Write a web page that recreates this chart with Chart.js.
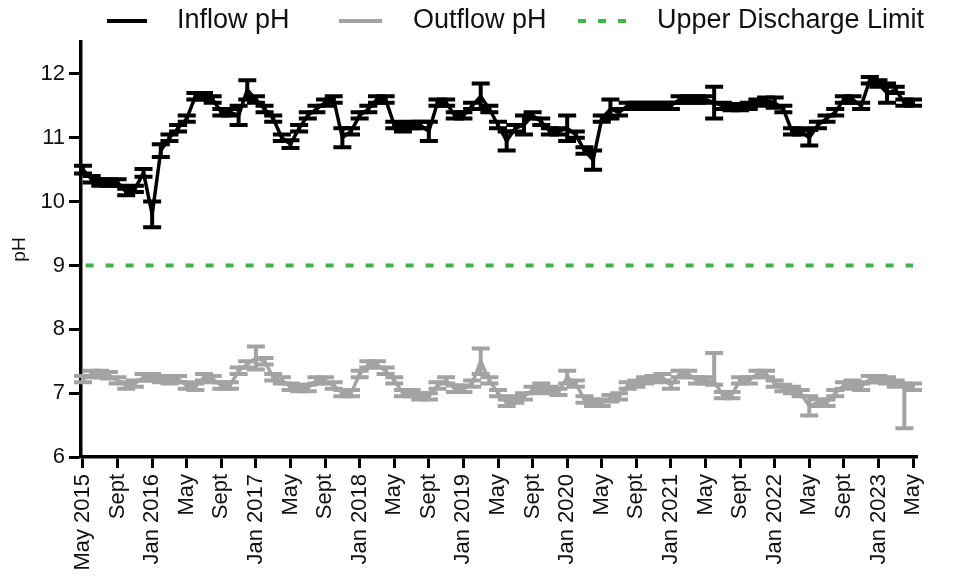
<!DOCTYPE html>
<html>
<head>
<meta charset="utf-8">
<script src="https://cdn.jsdelivr.net/npm/chart.js@4.4.1/dist/chart.umd.min.js"></script>
<style>
  html, body { margin: 0; padding: 0; background: #fff; }
  #wrap { width: 954px; height: 581px; }
</style>
</head>
<body>
<div id="wrap"><canvas id="c" width="954" height="581"></canvas></div>
<script>
// ---- data (monthly, May 2015 .. May 2023) ----
const tickLabels = ["May 2015","Sept","Jan 2016","May","Sept","Jan 2017","May","Sept","Jan 2018","May","Sept","Jan 2019","May","Sept","Jan 2020","May","Sept","Jan 2021","May","Sept","Jan 2022","May","Sept","Jan 2023","May"];

const inflowMean = [
  10.5, 10.35, 10.3, 10.3, 10.3, 10.15, 10.2, 10.45, 9.8, 10.8,
  11.0, 11.15, 11.3, 11.65, 11.65, 11.6, 11.4, 11.4, 11.35, 11.75,
  11.6, 11.45, 11.3, 11.0, 10.9, 11.15, 11.35, 11.45, 11.55, 11.6,
  11.0, 11.1, 11.35, 11.45, 11.6, 11.6, 11.2, 11.15, 11.2, 11.2,
  11.1, 11.55, 11.55, 11.35, 11.35, 11.5, 11.65, 11.45, 11.2, 10.95,
  11.15, 11.2, 11.35, 11.25, 11.1, 11.1, 11.15, 11.05, 10.8, 10.65,
  11.3, 11.45, 11.4, 11.5, 11.5, 11.5, 11.5, 11.5, 11.5, 11.6,
  11.6, 11.6, 11.6, 11.55, 11.5, 11.48, 11.48, 11.5, 11.55, 11.58,
  11.55, 11.45, 11.1, 11.1, 11.0, 11.2, 11.3, 11.4, 11.6, 11.6,
  11.5, 11.9, 11.85, 11.7, 11.75, 11.55, 11.55
];
const inflowErr = [
  0.06, 0.05, 0.05, 0.05, 0.05, 0.05, 0.05, 0.06, 0.2, 0.1,
  0.05, 0.05, 0.05, 0.05, 0.05, 0.05, 0.05, 0.05, 0.15, 0.15,
  0.05, 0.05, 0.05, 0.05, 0.06, 0.05, 0.05, 0.05, 0.05, 0.05,
  0.15, 0.05, 0.05, 0.05, 0.05, 0.05, 0.05, 0.05, 0.05, 0.05,
  0.15, 0.05, 0.05, 0.05, 0.05, 0.05, 0.2, 0.05, 0.05, 0.15,
  0.05, 0.15, 0.05, 0.05, 0.05, 0.05, 0.2, 0.05, 0.05, 0.15,
  0.05, 0.15, 0.05, 0.05, 0.05, 0.05, 0.05, 0.05, 0.05, 0.05,
  0.05, 0.05, 0.05, 0.25, 0.05, 0.05, 0.05, 0.05, 0.05, 0.05,
  0.08, 0.05, 0.05, 0.05, 0.12, 0.05, 0.05, 0.05, 0.05, 0.05,
  0.05, 0.05, 0.05, 0.15, 0.05, 0.05, 0.05
];

const outflowMean = [
  7.22, 7.3, 7.3, 7.28, 7.2, 7.12, 7.15, 7.25, 7.25, 7.22,
  7.2, 7.22, 7.12, 7.1, 7.25, 7.22, 7.12, 7.12, 7.35, 7.45,
  7.55, 7.5, 7.25, 7.2, 7.1, 7.08, 7.08, 7.2, 7.2, 7.12,
  7.0, 7.0, 7.3, 7.45, 7.45, 7.35, 7.2, 7.0, 7.0, 6.95,
  6.95, 7.12, 7.2, 7.07, 7.07, 7.15, 7.5, 7.2, 7.0, 6.85,
  6.9, 6.95, 7.05, 7.1, 7.05, 7.02, 7.25, 7.15, 6.9, 6.85,
  6.85, 6.92, 6.95, 7.12, 7.15, 7.2, 7.22, 7.25, 7.12, 7.3,
  7.3, 7.2, 7.2, 7.18, 6.97, 6.97, 7.2, 7.2, 7.3, 7.3,
  7.15, 7.08, 7.05, 7.0, 6.8, 6.85, 6.85, 7.0, 7.12, 7.15,
  7.1, 7.22, 7.22, 7.2, 7.15, 7.1, 7.1
];
const outflowErrUp = [
  0.05, 0.05, 0.05, 0.05, 0.05, 0.05, 0.05, 0.05, 0.05, 0.05,
  0.05, 0.05, 0.05, 0.05, 0.05, 0.05, 0.05, 0.05, 0.05, 0.05,
  0.18, 0.05, 0.05, 0.05, 0.05, 0.05, 0.05, 0.05, 0.05, 0.05,
  0.05, 0.05, 0.05, 0.05, 0.05, 0.05, 0.05, 0.05, 0.05, 0.05,
  0.05, 0.05, 0.05, 0.05, 0.05, 0.05, 0.2, 0.05, 0.05, 0.05,
  0.05, 0.05, 0.05, 0.05, 0.05, 0.05, 0.1, 0.05, 0.05, 0.05,
  0.05, 0.05, 0.05, 0.05, 0.05, 0.05, 0.05, 0.05, 0.05, 0.05,
  0.05, 0.05, 0.05, 0.45, 0.05, 0.05, 0.05, 0.05, 0.05, 0.05,
  0.05, 0.05, 0.05, 0.05, 0.15, 0.05, 0.05, 0.05, 0.05, 0.05,
  0.05, 0.05, 0.05, 0.05, 0.05, 0.05, 0.05
];
const outflowErrDown = [
  0.05, 0.05, 0.05, 0.05, 0.05, 0.05, 0.05, 0.05, 0.05, 0.05,
  0.05, 0.05, 0.05, 0.05, 0.05, 0.05, 0.05, 0.05, 0.05, 0.05,
  0.18, 0.05, 0.05, 0.05, 0.05, 0.05, 0.05, 0.05, 0.05, 0.05,
  0.05, 0.05, 0.05, 0.05, 0.05, 0.05, 0.05, 0.05, 0.05, 0.05,
  0.05, 0.05, 0.05, 0.05, 0.05, 0.05, 0.2, 0.05, 0.05, 0.05,
  0.05, 0.05, 0.05, 0.05, 0.05, 0.05, 0.1, 0.05, 0.05, 0.05,
  0.05, 0.05, 0.05, 0.05, 0.05, 0.05, 0.05, 0.05, 0.05, 0.05,
  0.05, 0.05, 0.05, 0.05, 0.05, 0.05, 0.05, 0.05, 0.05, 0.05,
  0.05, 0.05, 0.05, 0.05, 0.15, 0.05, 0.05, 0.05, 0.05, 0.05,
  0.05, 0.05, 0.05, 0.05, 0.05, 0.65, 0.05
];

const limitValue = 9;
const yTicks = [6, 7, 8, 9, 10, 11, 12];

// ---- styling ----
const FONT = "'Liberation Sans', Arial, Helvetica, sans-serif";
const INK = '#111';
const BLACK = '#000';
const GRAY = '#a3a3a3';
const GREEN = '#3db54a';

Chart.defaults.font.family = FONT;
Chart.defaults.color = INK;

const toXY = arr => arr.map((v, i) => ({ x: i, y: v }));

const errorBars = {
  id: 'errorBars',
  afterDatasetsDraw(chart) {
    const ctx = chart.ctx;
    const ys = chart.scales.y;
    chart.data.datasets.forEach((ds, di) => {
      if (!ds.errUp) return;
      const meta = chart.getDatasetMeta(di);
      ctx.save();
      ctx.strokeStyle = ds.borderColor;
      ctx.lineWidth = 4;
      ctx.lineCap = 'butt';
      meta.data.forEach((pt, i) => {
        const v = ds.data[i].y;
        const yt = ys.getPixelForValue(v + ds.errUp[i]);
        const yb = ys.getPixelForValue(v - ds.errDown[i]);
        const hw = 9;
        ctx.beginPath();
        ctx.moveTo(pt.x, yt); ctx.lineTo(pt.x, yb);
        ctx.moveTo(pt.x - hw, yt); ctx.lineTo(pt.x + hw, yt);
        ctx.moveTo(pt.x - hw, yb); ctx.lineTo(pt.x + hw, yb);
        ctx.stroke();
      });
      ctx.restore();
    });
  }
};

const topLegend = {
  id: 'topLegend',
  afterDraw(chart) {
    const ctx = chart.ctx;
    const items = [
      { ds: 0, sx: 107, sw: 40, tx: 177 },
      { ds: 1, sx: 339, sw: 43, tx: 413 },
      { ds: 2, sx: 578, sw: 50, tx: 657 }
    ];
    const y = 21;
    ctx.save();
    items.forEach(it => {
      const ds = chart.data.datasets[it.ds];
      ctx.strokeStyle = ds.borderColor;
      ctx.lineWidth = 4;
      ctx.setLineDash(ds.borderDash || []);
      ctx.beginPath();
      ctx.moveTo(it.sx, y); ctx.lineTo(it.sx + it.sw, y);
      ctx.stroke();
      ctx.setLineDash([]);
      ctx.fillStyle = INK;
      ctx.font = "27px " + FONT;
      ctx.textBaseline = 'middle';
      ctx.textAlign = 'left';
      ctx.fillText(ds.label, it.tx, y);
    });
    ctx.restore();
  }
};

new Chart(document.getElementById('c'), {
  type: 'line',
  data: {
    datasets: [
      {
        label: 'Inflow pH',
        data: toXY(inflowMean),
        errUp: inflowErr, errDown: inflowErr,
        borderColor: BLACK, borderWidth: 3.5,
        pointRadius: 0, tension: 0, order: 1
      },
      {
        label: 'Outflow pH',
        data: toXY(outflowMean),
        errUp: outflowErrUp, errDown: outflowErrDown,
        borderColor: GRAY, borderWidth: 3.5,
        pointRadius: 0, tension: 0, order: 2
      },
      {
        label: 'Upper Discharge Limit',
        data: [{ x: 0.3, y: limitValue }, { x: 96, y: limitValue }],
        borderColor: GREEN, borderWidth: 4, borderDash: [8, 12],
        pointRadius: 0, tension: 0, order: 3
      }
    ]
  },
  options: {
    responsive: false,
    animation: false,
    events: [],
    layout: { padding: { top: 42, right: 37, left: 0, bottom: 0 } },
    plugins: { legend: { display: false }, tooltip: { enabled: false } },
    scales: {
      x: {
        type: 'linear',
        min: -0.23, max: 96.46,
        afterBuildTicks: s => { s.ticks = tickLabels.map((_, k) => ({ value: k * 4 })); },
        afterFit: s => { s.height = 124; },
        ticks: {
          autoSkip: false, minRotation: 90, maxRotation: 90, padding: 6,
          font: { size: 22 }, color: INK,
          callback: v => tickLabels[Math.round(v / 4)]
        },
        grid: { drawOnChartArea: false, tickLength: 11, tickWidth: 3, tickColor: BLACK },
        border: { display: true, width: 3.5, color: BLACK }
      },
      y: {
        type: 'linear',
        min: 6, max: 12.5,
        afterBuildTicks: s => { s.ticks = yTicks.map(v => ({ value: v })); },
        afterFit: s => { s.width = 81; },
        ticks: { padding: 4, font: { size: 22 }, color: INK },
        grid: { drawOnChartArea: false, tickLength: 12, tickWidth: 3, tickColor: BLACK },
        border: { display: true, width: 3.5, color: BLACK },
        title: { display: true, text: 'pH', font: { size: 19 }, color: INK, padding: { top: 8, bottom: 0 } }
      }
    }
  },
  plugins: [errorBars, topLegend]
});
</script>
</body>
</html>
